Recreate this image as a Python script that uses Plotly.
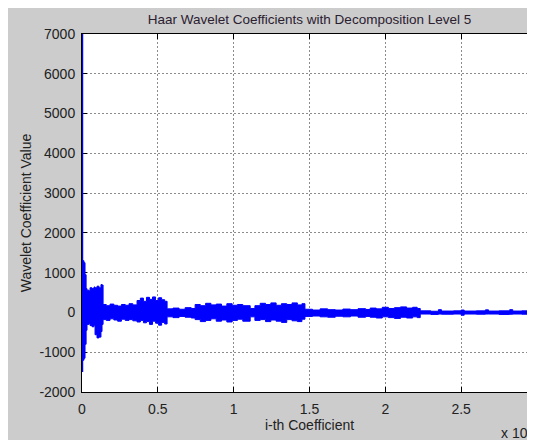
import plotly.graph_objects as go

# ---------------- data ----------------
# first (approximation) coefficients: the tall spike at the very start
spike_idx = [150, 150]
spike_val = [7000, -1500]

# envelope of the dense detail-coefficient band (coefficient index, upper, lower)
coef_idx = [
    600, 1300, 2000, 2700, 3300, 4600, 5300, 6600, 7900, 8600, 9900, 11200, 12500, 13200,
    13900, 16000, 18500, 21000, 23500, 26000, 28500, 31000, 33500,
    36300, 38500, 40500, 42500, 44500, 46500, 48500, 50500, 52500, 54500,
    56100, 60000, 64000, 68000, 72000,
    74600, 78000, 81500, 85000, 88500, 92000, 95500, 99000, 102500, 106000,
    110900,
    114000, 117500, 121000, 124500, 128000, 131500, 135000, 138500, 142000, 145000,
    147000, 152000, 157000, 162000, 167000, 172000, 177000, 182000, 187000,
    190000, 194000, 198000, 202000, 206000, 210000, 214000, 218000, 221000,
    223000, 230000, 235000, 237000, 245000, 250000, 252000, 260000, 266000, 268000,
    275000, 282000, 284000, 290000, 300000,
]
env_upper = [
    1300, 1250, 950, 600, 560, 540, 620, 600, 640, 620, 660, 620, 700, 690,
    200, 170, 210, 180, 160, 200, 180, 220, 190,
    300, 360, 280, 380, 330, 390, 300, 370, 320, 280,
    90, 110, 80, 120, 100,
    200, 170, 230, 190, 210, 160, 220, 180, 200, 170,
    100,
    170, 230, 200, 240, 180, 220, 200, 240, 190, 220,
    80, 60, 90, 70, 60, 85, 70, 95, 75,
    110, 90, 130, 100, 120, 140, 110, 130, 100,
    40, 30, 70, 35, 40, 60, 35, 40, 65, 35,
    40, 70, 35, 40, 35,
]
env_lower = [
    -1200, -1150, -800, -450, -300, -280, -330, -360, -320, -560, -640, -620, -480, -300,
    -180, -200, -160, -190, -220, -170, -200, -180, -210,
    -240, -200, -260, -230, -300, -220, -270, -320, -250, -290,
    -110, -130, -100, -120, -140,
    -180, -230, -200, -160, -220, -190, -240, -200, -170, -220,
    -110,
    -200, -180, -230, -190, -220, -250, -180, -210, -230, -170,
    -100, -90, -110, -120, -95, -110, -90, -120, -100,
    -120, -140, -110, -130, -150, -120, -140, -110, -130,
    -40, -50, -40, -45, -40, -70, -40, -45, -40, -40,
    -50, -45, -40, -45, -40,
]

x_tick_vals = [0, 50000, 100000, 150000, 200000, 250000]
x_tick_text = ["0", "0.5", "1", "1.5", "2", "2.5"]
y_tick_vals = [-2000, -1000, 0, 1000, 2000, 3000, 4000, 5000, 6000, 7000]
y_tick_text = ["-2000", "-1000", "0", "1000", "2000", "3000", "4000", "5000", "6000", "7000"]

title_text = "Haar Wavelet Coefficients with Decomposition Level 5"
x_title = "i-th Coefficient"
y_title = "Wavelet Coefficient Value"

# ---------------- figure ----------------
BLUE = "#0000ff"
FONT = "Liberation Sans, Arial, Helvetica, sans-serif"

fig = go.Figure()
fig.add_trace(go.Scatter(x=coef_idx, y=env_upper, mode="lines", line=dict(color=BLUE, width=1, shape="hv"),
                         hoverinfo="skip", showlegend=False))
fig.add_trace(go.Scatter(x=coef_idx, y=env_lower, mode="lines", line=dict(color=BLUE, width=1, shape="hv"),
                         fill="tonexty", fillcolor=BLUE, hoverinfo="skip", showlegend=False))
fig.add_trace(go.Scatter(x=spike_idx, y=spike_val, mode="lines", line=dict(color=BLUE, width=2),
                         hoverinfo="skip", showlegend=False))

axis_common = dict(
    showline=True, linecolor="#000000", linewidth=1,
    ticks="inside", ticklen=5, tickcolor="#000000", tickwidth=1,
    showgrid=True, gridcolor="#8c8c8c", gridwidth=1, griddash="2px,2px",
    zeroline=False, layer="below traces",
    tickfont=dict(family=FONT, size=14, color="#222222"),
    title_font=dict(family=FONT, size=14, color="#222222"),
)

fig.update_layout(
    width=535, height=432,
    margin=dict(l=74, r=6, t=26, b=48, pad=0),
    paper_bgcolor="#cccccc", plot_bgcolor="#ffffff",
    showlegend=False,
    title=dict(text=title_text, x=0.5, xref="paper", xanchor="center",
               y=0.9734, yref="container", yanchor="middle",
               font=dict(family=FONT, size=13.5, color="#2a2030")),
    xaxis=dict(range=[0, 300000], tickvals=x_tick_vals, ticktext=x_tick_text,
               mirror="ticks", ticklabelstandoff=4,
               title=dict(text=x_title, standoff=0), **axis_common),
    yaxis=dict(range=[-2000, 7000], tickvals=y_tick_vals, ticktext=y_tick_text,
               ticklabelstandoff=3,
               title=dict(text=y_title, standoff=4), **axis_common),
)

# MATLAB-style exponent label at the bottom right
fig.add_annotation(text="x 10<sup>5</sup>", xref="paper", yref="paper", x=0.9956, y=-0.1117,
                   xanchor="right", yanchor="middle", showarrow=False,
                   font=dict(family=FONT, size=14, color="#222222"))

# the figure is wider than the window (the reference is cropped at its right edge): hide scrollbars
fig.write_html(
    "out.html",
    post_script="document.documentElement.style.overflow='hidden';document.body.style.overflow='hidden';",
)
